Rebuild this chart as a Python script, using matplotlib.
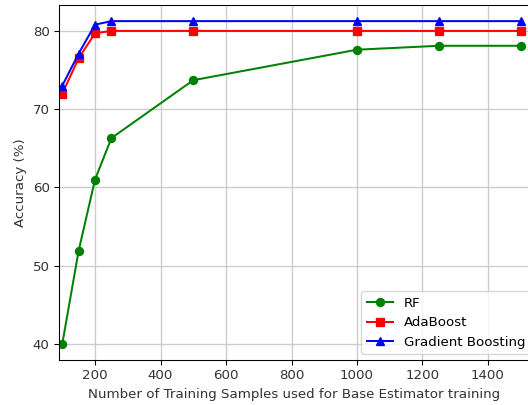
import numpy as np
import matplotlib.pyplot as plt

# accuracy vs. number of training samples for the base estimator
samples = [100, 150, 200, 250, 500, 1000, 1250, 1500]
rf_acc = [40.0, 51.9, 61.0, 66.3, 73.7, 77.6, 78.1, 78.1]
ada_acc = [72.0, 76.5, 79.7, 80.0, 80.0, 80.0, 80.0, 80.0]
gb_acc = [73.0, 77.1, 80.8, 81.25, 81.25, 81.25, 81.25, 81.25]

dpi = 96
fig = plt.figure(figsize=(528/dpi, 405/dpi), dpi=dpi)
ax = fig.add_axes([59/528, 45/405, 1.003 - 59/528, 355/405])

ax.plot(samples, rf_acc, 'g-o', label='RF')
ax.plot(samples, ada_acc, 'r-s', label='AdaBoost')
ax.plot(samples, gb_acc, 'b-^', label='Gradient Boosting')

ax.set_xlim(90, 1527)
ax.set_yticks([40, 50, 60, 70, 80])
ax.set_xticks([200, 400, 600, 800, 1000, 1200, 1400])
ax.grid(True, color='#cccccc', linewidth=1)
ax.tick_params(labelcolor='#333333')
ax.set_xlabel('Number of Training Samples used for Base Estimator training', color='#333333')
ax.set_ylabel('Accuracy (%)', color='#333333')
ax.legend(loc='lower right', bbox_to_anchor=(1.017, -0.003))

fig.savefig('out.png', dpi=dpi)
